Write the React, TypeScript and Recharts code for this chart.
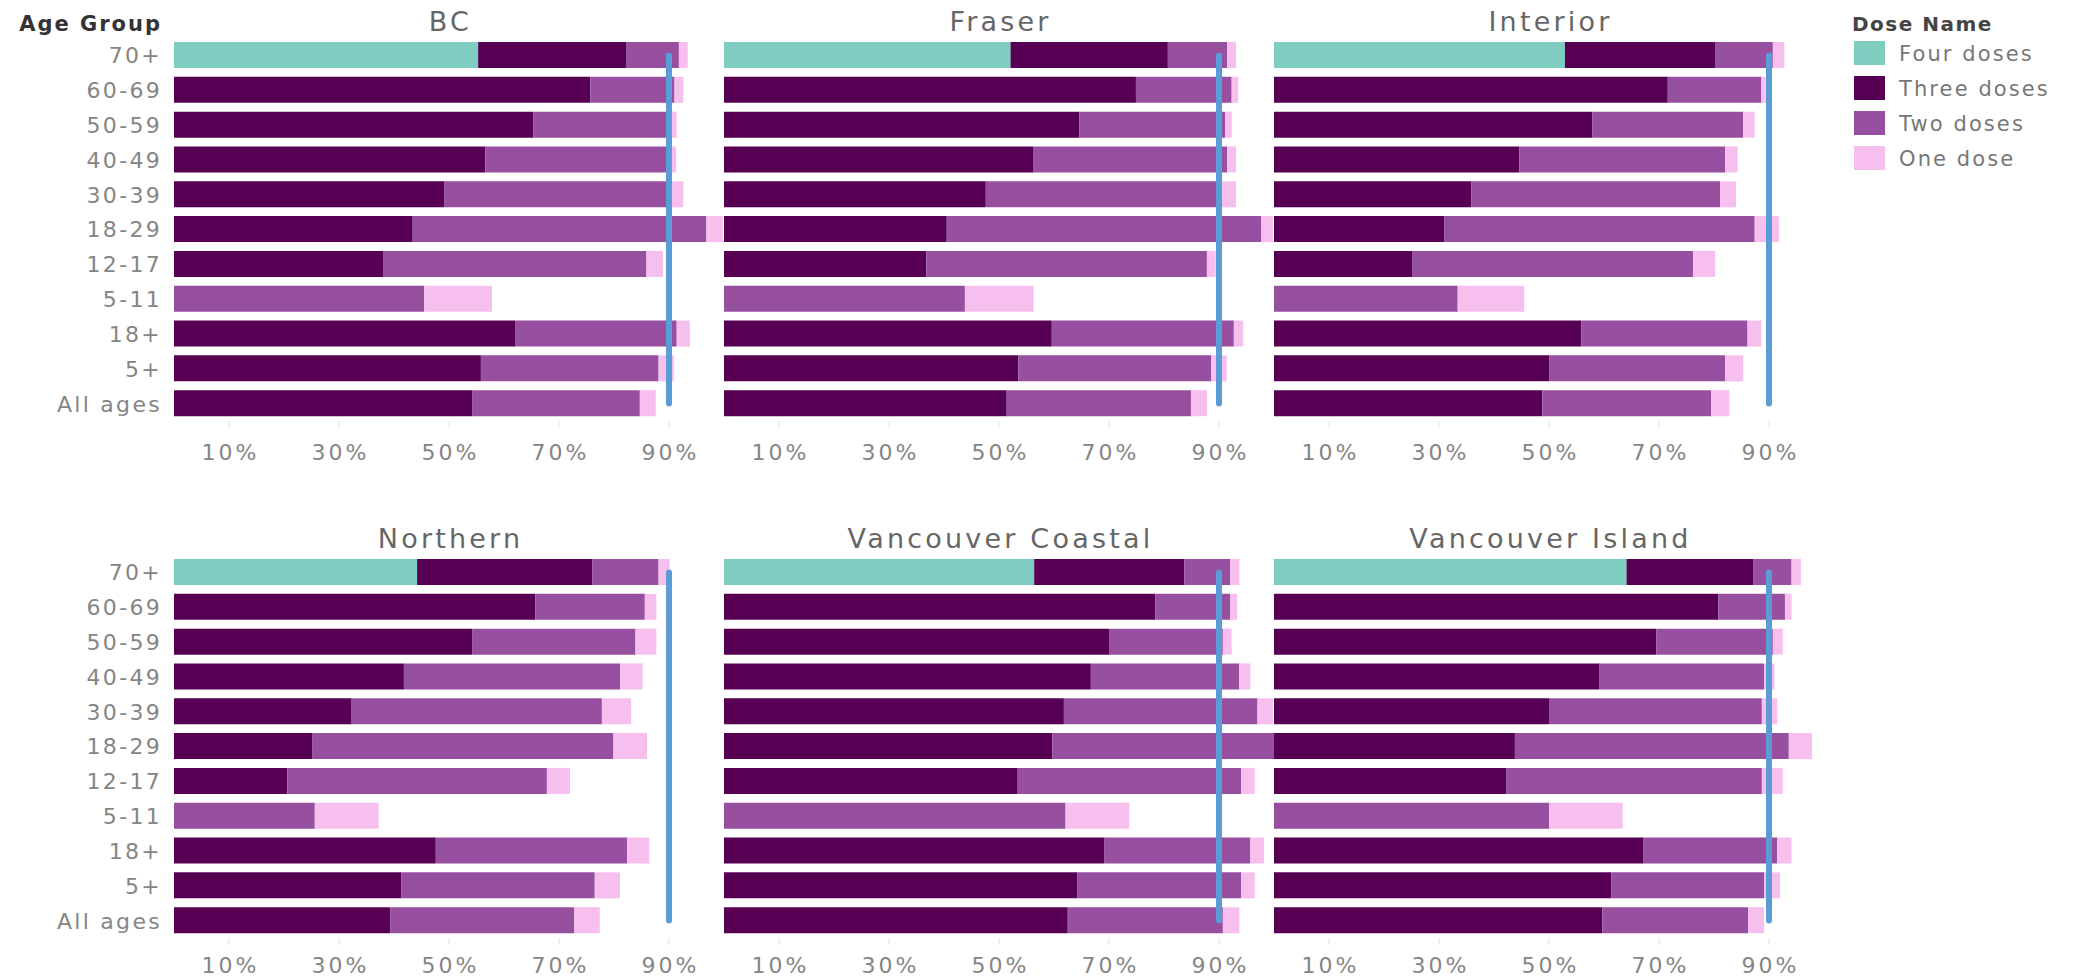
import React from 'react';
import { ComposedChart, Bar, Line, XAxis, YAxis } from 'recharts';

const AGE_GROUPS = ['70+', '60-69', '50-59', '40-49', '30-39', '18-29', '12-17', '5-11', '18+', '5+', 'All ages'];
const X_TICKS = [10, 30, 50, 70, 90];
const TARGET = 90;
const SERIES_NAMES = ['Four doses', 'Three doses', 'Two doses', 'One dose'];
const SERIES_COLORS = ['#7fccc0', '#570053', '#974fa0', '#f7bfee'];
const TARGET_COLOR = '#5b9bd6';

// BC
const bcFour = [55.3, 0, 0, 0, 0, 0, 0, 0, 0, 0, 0];
const bcThree = [27.0, 75.7, 65.3, 56.6, 49.2, 43.4, 38.0, 0, 62.0, 55.8, 54.2];
const bcTwo = [9.5, 15.3, 25.2, 33.9, 41.3, 53.4, 47.9, 45.5, 29.4, 32.3, 30.5];
const bcOne = [1.6, 1.6, 0.9, 0.8, 2.1, 3.0, 3.0, 12.3, 2.4, 2.8, 2.9];
// Fraser
const fraserFour = [52.1, 0, 0, 0, 0, 0, 0, 0, 0, 0, 0];
const fraserThree = [28.6, 74.9, 64.6, 56.3, 47.6, 40.5, 36.8, 0, 59.6, 53.5, 51.4];
const fraserTwo = [10.8, 17.4, 26.5, 35.2, 43.0, 57.2, 51.0, 43.8, 33.1, 35.1, 33.5];
const fraserOne = [1.6, 1.2, 1.2, 1.6, 2.5, 2.1, 1.6, 12.5, 1.7, 2.8, 2.9];
// Interior
const interiorFour = [52.9, 0, 0, 0, 0, 0, 0, 0, 0, 0, 0];
const interiorThree = [27.4, 71.6, 57.9, 44.6, 35.9, 31.0, 25.1, 0, 55.9, 50.1, 48.8];
const interiorTwo = [10.4, 17.0, 27.4, 37.4, 45.2, 56.4, 51.1, 33.4, 30.2, 31.9, 30.7];
const interiorOne = [2.1, 0.8, 2.1, 2.3, 2.9, 4.4, 4.0, 12.1, 2.5, 3.3, 3.3];
// Northern
const northernFour = [44.2, 0, 0, 0, 0, 0, 0, 0, 0, 0, 0];
const northernThree = [31.9, 65.7, 54.2, 41.8, 32.3, 25.2, 20.6, 0, 47.6, 41.3, 39.3];
const northernTwo = [12.0, 19.9, 29.7, 39.3, 45.5, 54.7, 47.2, 25.6, 34.8, 35.2, 33.5];
const northernOne = [2.0, 2.1, 3.8, 4.1, 5.3, 6.1, 4.2, 11.6, 4.0, 4.6, 4.6];
// Vancouver Coastal
const coastalFour = [56.4, 0, 0, 0, 0, 0, 0, 0, 0, 0, 0];
const coastalThree = [27.3, 78.4, 70.0, 66.7, 61.8, 59.7, 53.4, 0, 69.2, 64.2, 62.5];
const coastalTwo = [8.3, 13.6, 20.7, 27.0, 35.2, 41.0, 40.6, 62.1, 26.5, 29.8, 28.2];
const coastalOne = [1.7, 1.3, 1.6, 2.0, 2.8, 1.8, 2.5, 11.6, 2.5, 2.5, 3.0];
// Vancouver Island
const islandFour = [64.1, 0, 0, 0, 0, 0, 0, 0, 0, 0, 0];
const islandThree = [23.0, 80.8, 69.5, 59.2, 50.0, 43.8, 42.2, 0, 67.2, 61.3, 59.7];
const islandTwo = [7.0, 12.1, 21.2, 29.9, 38.7, 49.8, 46.5, 50.0, 24.3, 27.8, 26.5];
const islandOne = [1.7, 1.2, 1.8, 1.9, 2.8, 4.2, 3.8, 13.4, 2.6, 2.9, 2.9];

const FONT = '"DejaVu Sans", sans-serif';
const PLOT_W = 550;
const PLOT_H = 383;
const AXIS_H = [50, 41];
const LABEL_DY = [28, 24];
const Y_W = 174;

function buildRows(four: number[], three: number[], two: number[], one: number[]) {
  return AGE_GROUPS.map((age, i) => ({
    age,
    four: four[i],
    three: three[i],
    two: two[i],
    one: one[i],
    target: TARGET,
  }));
}

const PANELS = [
  { title: 'BC', col: 0, row: 0, data: buildRows(bcFour, bcThree, bcTwo, bcOne) },
  { title: 'Fraser', col: 1, row: 0, data: buildRows(fraserFour, fraserThree, fraserTwo, fraserOne) },
  { title: 'Interior', col: 2, row: 0, data: buildRows(interiorFour, interiorThree, interiorTwo, interiorOne) },
  { title: 'Northern', col: 0, row: 1, data: buildRows(northernFour, northernThree, northernTwo, northernOne) },
  { title: 'Vancouver Coastal', col: 1, row: 1, data: buildRows(coastalFour, coastalThree, coastalTwo, coastalOne) },
  { title: 'Vancouver Island', col: 2, row: 1, data: buildRows(islandFour, islandThree, islandTwo, islandOne) },
];

const COL_LEFT = [174, 724, 1274];
const ROW_TOP = [38, 555];

const YTick = (props: any) => {
  const { x, y, payload } = props;
  return (
    <text x={x} y={y} dy="0.36em" textAnchor="end" fill="#858585" fontSize={22} fontFamily={FONT} letterSpacing={2.3}>
      {payload.value}
    </text>
  );
};

const XTick = (props: any) => {
  const { x, y, payload, labelDy } = props;
  return (
    <text x={x + 1.5} y={y + labelDy} textAnchor="middle" fill="#858585" fontSize={22} fontFamily={FONT} letterSpacing={3}>
      {`${payload.value}%`}
    </text>
  );
};

function Panel({ data, col, row }: any) {
  const showY = col === 0;
  const yW = showY ? Y_W : 0;
  return (
    <div style={{ position: 'absolute', left: COL_LEFT[col] - yW, top: ROW_TOP[row] }}>
      <ComposedChart
        layout="vertical"
        width={yW + PLOT_W}
        height={PLOT_H + AXIS_H[row]}
        data={data}
        margin={{ top: 0, right: 0, bottom: 0, left: 0 }}
        barSize={26}
      >
        <XAxis
          type="number"
          domain={[0, 100]}
          allowDataOverflow
          ticks={X_TICKS}
          interval={0}
          axisLine={false}
          tickLine={{ stroke: '#e2e2e2' }}
          tickSize={7}
          tickMargin={4}
          height={AXIS_H[row]}
          tick={<XTick labelDy={LABEL_DY[row]} />}
        />
        <YAxis
          type="category"
          dataKey="age"
          width={yW}
          hide={!showY}
          axisLine={false}
          tickLine={false}
          tickSize={0}
          tickMargin={12}
          interval={0}
          tick={<YTick />}
        />
        <Bar dataKey="four" name={SERIES_NAMES[0]} stackId="s" fill={SERIES_COLORS[0]} isAnimationActive={false} />
        <Bar dataKey="three" name={SERIES_NAMES[1]} stackId="s" fill={SERIES_COLORS[1]} isAnimationActive={false} />
        <Bar dataKey="two" name={SERIES_NAMES[2]} stackId="s" fill={SERIES_COLORS[2]} isAnimationActive={false} />
        <Bar dataKey="one" name={SERIES_NAMES[3]} stackId="s" fill={SERIES_COLORS[3]} isAnimationActive={false} />
        <Line
          dataKey="target"
          stroke={TARGET_COLOR}
          strokeWidth={6}
          strokeLinecap="round"
          dot={false}
          activeDot={false}
          isAnimationActive={false}
        />
      </ComposedChart>
    </div>
  );
}

export default function App() {
  return (
    <div style={{ position: 'absolute', left: 0, top: 0, width: 2075, height: 979, background: '#fff', overflow: 'hidden' }}>
      {PANELS.map((p) => (
        <Panel key={p.title} {...p} />
      ))}
      <svg width={2075} height={979} style={{ position: 'absolute', left: 0, top: 0, pointerEvents: 'none' }}>
        <text x={162} y={30.5} textAnchor="end" fontFamily={FONT} fontWeight="bold" fontSize={21} fill="#333" letterSpacing={2}>
          Age Group
        </text>
        {PANELS.map((p) => (
          <text
            key={p.title}
            x={COL_LEFT[p.col] + PLOT_W / 2 + 1.5}
            y={ROW_TOP[p.row] - 7.5}
            textAnchor="middle"
            fontFamily={FONT}
            fontSize={27}
            fill="#666"
            letterSpacing={3.2}
          >
            {p.title}
          </text>
        ))}
        <text x={1852} y={30.7} fontFamily={FONT} fontWeight="bold" fontSize={20} fill="#444" letterSpacing={1.5}>
          Dose Name
        </text>
        {SERIES_NAMES.map((name, i) => (
          <g key={name}>
            <rect x={1854} y={41 + i * 35} width={31} height={24} fill={SERIES_COLORS[i]} />
            <text x={1899} y={60.7 + i * 35} fontFamily={FONT} fontSize={21} fill="#777" letterSpacing={2.1}>
              {name}
            </text>
          </g>
        ))}
      </svg>
    </div>
  );
}
